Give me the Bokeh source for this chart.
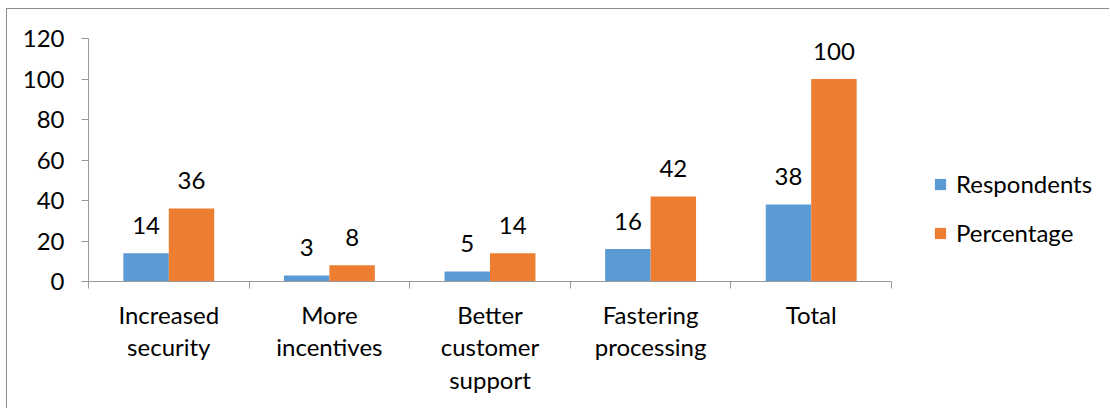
from bokeh.plotting import figure
from bokeh.models import (ColumnDataSource, FixedTicker, Legend, LegendItem, Range1d)
from bokeh.core.properties import value
from bokeh.embed import file_html
from bokeh.resources import INLINE

categories = ["Increased\nsecurity", "More\nincentives", "Better\ncustomer\nsupport",
              "Fastering\nprocessing", "Total"]
respondents = [14, 3, 5, 16, 38]
percentage = [36, 8, 14, 42, 100]
y_ticks = [0, 20, 40, 60, 80, 100, 120]

BLUE = "#5B9BD5"
ORANGE = "#ED7D31"
AXIS = "#9a9a9a"
FONT = "Lato"
FS = "24px"
BW = 0.283

n = len(categories)
centers = [i + 0.5 for i in range(n)]
# frame spans to the canvas right edge; the category axis covers 803 of 1022 px
x_end = n * 1022 / 803

src_r = ColumnDataSource(dict(x=[c - BW / 2 for c in centers], top=respondents,
                              lab=[str(v) for v in respondents]))
src_p = ColumnDataSource(dict(x=[c + BW / 2 for c in centers], top=percentage,
                              lab=[str(v) for v in percentage]))

p = figure(width=1103, height=400, output_backend="svg", toolbar_location=None,
           x_range=Range1d(0, x_end), y_range=Range1d(0, 120),
           min_border_left=81, min_border_right=0, min_border_top=29, min_border_bottom=128)
p.margin = (8, 0, 0, 6)
p.styles = {"border-left": "1px solid #8c8c8c", "border-top": "1px solid #8c8c8c"}
p.outline_line_color = None
p.xgrid.visible = False
p.ygrid.visible = False
p.background_fill_color = "white"
p.border_fill_color = "white"

r1 = p.vbar(x="x", top="top", width=BW, source=src_r, fill_color=BLUE, line_color=None)
r2 = p.vbar(x="x", top="top", width=BW, source=src_p, fill_color=ORANGE, line_color=None)

for src in (src_r, src_p):
    p.text(x="x", y="top", text="lab", source=src, text_font=value(FONT),
           text_font_size=value(FS), text_color="black", text_align="center",
           text_baseline="alphabetic", y_offset=-28)

# x axis
xa = p.xaxis[0]
xa.bounds = (0, n)
xa.ticker = FixedTicker(ticks=centers, minor_ticks=list(range(n + 1)))
xa.major_label_overrides = {c: lab for c, lab in zip(centers, categories)}
xa.major_tick_out = 0
xa.major_tick_in = 0
xa.minor_tick_out = 7
xa.minor_tick_in = 0
xa.minor_tick_line_color = AXIS
xa.axis_line_color = AXIS
xa.major_label_text_font = FONT
xa.major_label_text_font_size = FS
xa.major_label_text_color = "black"
xa.major_label_text_line_height = 1.13
xa.major_label_standoff = 11

ya = p.yaxis[0]
ya.ticker = FixedTicker(ticks=y_ticks)
ya.major_tick_out = 7
ya.major_tick_in = 0
ya.minor_tick_line_color = None
ya.major_tick_line_color = AXIS
ya.axis_line_color = AXIS
ya.major_label_text_font = FONT
ya.major_label_text_font_size = FS
ya.major_label_text_color = "black"
ya.major_label_standoff = 17

legend = Legend(items=[LegendItem(label="Respondents", renderers=[r1]),
                       LegendItem(label="Percentage", renderers=[r2])],
                location=(845, 34), orientation="vertical",
                glyph_width=14, glyph_height=14, label_standoff=9,
                label_text_font=FONT, label_text_font_size=FS,
                label_text_color="black", spacing=20, padding=0, margin=0,
                border_line_color=None, background_fill_alpha=0)
p.add_layout(legend, "center")

open("out.html", "w").write(file_html(p, INLINE))
